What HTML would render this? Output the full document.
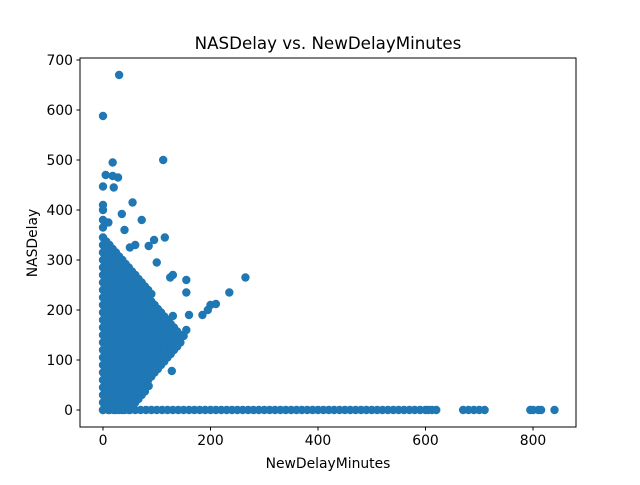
<!DOCTYPE html>
<html><head><meta charset="utf-8"><style>
body{margin:0;background:#fff;}
svg text{font-family:"DejaVu Sans","Liberation Sans",sans-serif;fill:#000;}
</style></head><body>
<svg id="chart" width="640" height="480" xmlns="http://www.w3.org/2000/svg">
<rect width="640" height="480" fill="#fff"/>
<text x="328" y="49" font-size="16.7" text-anchor="middle">NASDelay vs. NewDelayMinutes</text>
<g id="marks"></g>
<rect x="80" y="58" width="496" height="369" fill="none" stroke="#000" stroke-width="1"/>
<g id="axes"></g>
<text x="328" y="468" font-size="13.9" text-anchor="middle">NewDelayMinutes</text>
<text x="37" y="243" font-size="13.9" text-anchor="middle" transform="rotate(-90 37 243)">NASDelay</text>
</svg>
<script>
const xTicks=[0,200,400,600,800];
const yTicks=[0,100,200,300,400,500,600,700];
const colXs=[0,12,24,36,48,60,72,84,96,108,120,132,144];
const colYs=[
[0,15,30,45,60,75,90,105,120,135,150,165,180,195,210,225,240,255,270,285,300,315,330,345],
[0,15,30,45,60,75,90,105,120,135,150,165,180,195,210,225,240,255,270,285,300,315,330],
[0,15,30,45,60,75,90,105,120,135,150,165,180,195,210,225,240,255,270,285,300,315],
[0,15,30,45,60,75,90,105,120,135,150,165,180,195,210,225,240,255,270,285,300],
[0,15,30,45,60,75,90,105,120,135,150,165,180,195,210,225,240,255,270,285],
[15,30,45,60,75,90,105,120,135,150,165,180,195,210,225,240,255,270],
[30,45,60,75,90,105,120,135,150,165,180,195,210,225,240,255],
[60,75,90,105,120,135,150,165,180,195,210,225,240],
[75,90,105,120,135,150,165,180,195,210],
[90,105,120,135,150,165,180,195],
[105,120,135,150,165,180],
[120,135,150,165],
[135,150]
];
const colXs2=[6,18,30,42,54,66,78,90,102,114,126,138];
const colYs2=[
[7,22,37,52,67,82,97,112,127,142,157,172,187,202,217,232,247,262,277,292,307,322,337],
[7,22,37,52,67,82,97,112,127,142,157,172,187,202,217,232,247,262,277,292,307,322],
[7,22,37,52,67,82,97,112,127,142,157,172,187,202,217,232,247,262,277,292,307],
[7,22,37,52,67,82,97,112,127,142,157,172,187,202,217,232,247,262,277,292],
[7,22,37,52,67,82,97,112,127,142,157,172,187,202,217,232,247,262,277],
[22,37,52,67,82,97,112,127,142,157,172,187,202,217,232,247,262],
[37,52,67,82,97,112,127,142,157,172,187,202,217,232,247],
[67,82,97,112,127,142,157,172,187,202,217,232],
[82,97,112,127,142,157,172,187,202],
[97,112,127,142,157,172,187],
[112,127,142,157,172],
[127,142,157]
];
const outlierX=[30,112,0,18,5,18,28,0,20,55,0,35,72,10,40,115,95,60,85,50,125,130,155,265,155,235,200,210,195,185,160,130,155,150,128,85,100,0,0,0];
const outlierY=[670,500,588,495,470,468,465,447,445,415,410,392,380,375,360,345,340,330,328,325,265,270,260,265,235,235,210,212,200,190,190,188,160,148,78,48,295,400,380,365];
const zeroRowX=[0,10,20,30,40,50,60,70,80,90,100,110,120,130,140,150,160,170,180,190,200,210,220,230,240,250,260,270,280,290,300,310,320,330,340,350,360,370,380,390,400,410,420,430,440,450,460,470,480,490,500,510,520,530,540,550,560,570,580,590,600,605,612,620,670,680,690,700,710,795,800,810,815,840];
const NS='http://www.w3.org/2000/svg';
function sx(v){return 103+v*0.5375;}
function sy(v){return 410-v*0.5;}
const marks=document.getElementById('marks');
function dot(x,y){
  const c=document.createElementNS(NS,'circle');
  c.setAttribute('cx',sx(x));c.setAttribute('cy',sy(y));c.setAttribute('r',4.2);
  c.setAttribute('fill','#1f77b4');
  
  
  marks.appendChild(c);
}
colXs.forEach((x,i)=>colYs[i].forEach(y=>dot(x,y)));
colXs2.forEach((x,i)=>colYs2[i].forEach(y=>dot(x,y)));
zeroRowX.forEach(x=>dot(x,0));
outlierX.forEach((x,i)=>dot(x,outlierY[i]));
const axes=document.getElementById('axes');
xTicks.forEach(t=>{
  const l=document.createElementNS(NS,'line');
  l.setAttribute('x1',sx(t));l.setAttribute('x2',sx(t));l.setAttribute('y1',427);l.setAttribute('y2',430.5);l.setAttribute('stroke','#000');
  
  
  axes.appendChild(l);
  const tx=document.createElementNS(NS,'text');
  tx.setAttribute('x',sx(t));tx.setAttribute('y',445);tx.setAttribute('font-size','13.9');tx.setAttribute('text-anchor','middle');
  tx.textContent=t;
  
  
  axes.appendChild(tx);
});
yTicks.forEach(t=>{
  const l=document.createElementNS(NS,'line');
  l.setAttribute('x1',76.5);l.setAttribute('x2',80);l.setAttribute('y1',sy(t));l.setAttribute('y2',sy(t));l.setAttribute('stroke','#000');
  
  
  axes.appendChild(l);
  const tx=document.createElementNS(NS,'text');
  tx.setAttribute('x',73);tx.setAttribute('y',sy(t)+5);tx.setAttribute('font-size','13.9');tx.setAttribute('text-anchor','end');
  tx.textContent=t;
  
  
  axes.appendChild(tx);
});
</script>
</body></html>
